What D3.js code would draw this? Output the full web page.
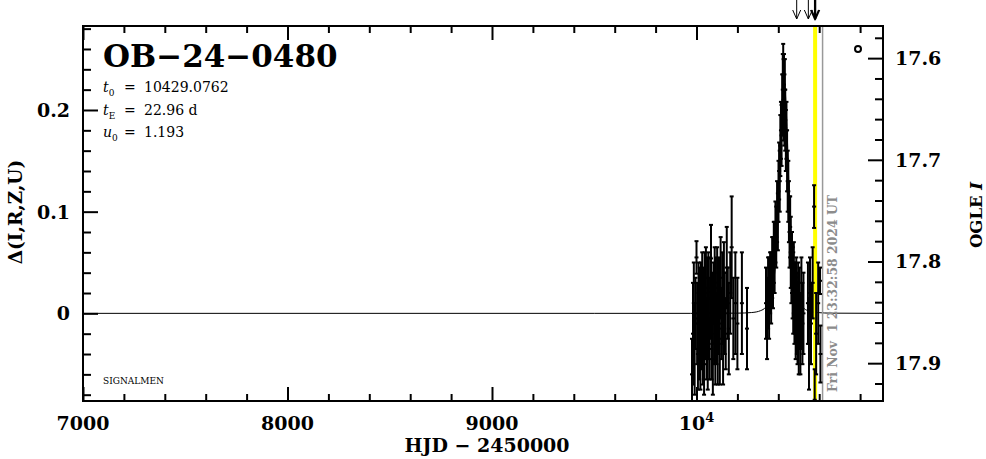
<!DOCTYPE html>
<html><head><meta charset="utf-8">
<script src="https://cdn.jsdelivr.net/npm/d3@7"></script>
<style>body{margin:0;background:#fff}svg{display:block}</style>
</head><body><svg id="c" width="986" height="459"></svg>
<script>
// ---------- data ----------
const xTickValues = [7000, 8000, 9000, 10000];
const xTickLabels = ["7000", "8000", "9000", "10|4"];
const leftTickValues = [0, 0.1, 0.2];
const leftTickLabels = ["0", "0.1", "0.2"];
const rightTickValues = [17.6, 17.7, 17.8, 17.9];
const rightTickLabels = ["17.6", "17.7", "17.8", "17.9"];
const xDomain = [7000, 10912];
const deltaDomain = [-0.0862, 0.2826];
const baselineMag = 17.851;

const eventName = "OB\u221224\u22120480";
const paramNames = ["t", "t", "u"];
const paramSubs = ["0", "E", "0"];
const paramValues = ["10429.0762", "22.96 d", "1.193"];

const obsTime = [
 9978, 9983, 9987, 9991, 9995, 10000, 10003, 10007, 10010, 10013, 10016, 10019, 10022, 10025, 10028,
 10031, 10034, 10037, 10040, 10043, 10046, 10049, 10052, 10055, 10058, 10061, 10064, 10067, 10071, 10074,
 10077, 10080, 10083, 10086, 10089, 10092, 10095, 10098, 10101, 10104, 10107, 10110, 10114, 10118, 10122,
 10126, 10130, 10134, 10138, 10143, 10148, 10153, 10158, 10165, 10172, 10180, 10190, 10200, 10222, 10247,
 10340, 10345, 10350, 10355, 10360, 10365, 10370, 10374, 10378, 10382, 10386, 10390, 10394, 10398, 10401,
 10404, 10407, 10410, 10413, 10416, 10419, 10422, 10424, 10426, 10428, 10430, 10432, 10434, 10437, 10440,
 10443, 10446, 10449, 10452, 10455, 10458, 10461, 10464, 10467, 10470, 10473, 10476, 10479, 10482, 10485,
 10488, 10491, 10494, 10497, 10500, 10504, 10508, 10513, 10518, 10523,
 10545, 10550, 10555, 10560, 10568, 10575, 10578, 10585, 10595, 10604, 10606];
const obsDelta = [
 -0.06, -0.02, 0.01, -0.035, 0.00, 0.055, -0.01, -0.04, 0.02, -0.02, 0.005, -0.045, 0.015, -0.015, 0.03,
 -0.03, 0.00, -0.05, 0.02, -0.01, 0.035, -0.025, 0.01, -0.04, 0.025, -0.005, -0.035, 0.015, 0.054, -0.02,
 0.005, -0.045, 0.02, -0.01, 0.03, -0.03, 0.01, -0.015, 0.025, -0.04, 0.00, 0.02, -0.025, 0.035, -0.01,
 0.015, -0.03, 0.04, 0.00, -0.02, 0.045, 0.01, -0.015, 0.02, 0.065, -0.005, 0.01, -0.01, 0.01, -0.015,
 0.01, -0.005, 0.02, 0.015, 0.03, 0.025, 0.045, 0.04, 0.06, 0.055, 0.08, 0.075, 0.10, 0.09, 0.12,
 0.14, 0.13, 0.165, 0.18, 0.175, 0.205, 0.22, 0.235, 0.21, 0.225, 0.20, 0.22, 0.19, 0.17, 0.18,
 0.15, 0.13, 0.12, 0.10, 0.08, 0.085, 0.06, 0.045, 0.05, 0.03, 0.02, 0.035, 0.01, 0.015, -0.005,
 0.02, 0.00, -0.01, 0.01, -0.015, 0.005, -0.02, 0.01, -0.01, 0.00,
 0.01, -0.03, 0.02, -0.01, 0.03, 0.105, -0.085, -0.02, 0.01, 0.032, -0.04];
const obsErr = [
 0.035, 0.05, 0.04, 0.045, 0.035, 0.016, 0.04, 0.035, 0.03, 0.045, 0.04, 0.03, 0.035, 0.04, 0.03,
 0.04, 0.045, 0.03, 0.04, 0.035, 0.03, 0.04, 0.045, 0.035, 0.035, 0.04, 0.03, 0.04, 0.033, 0.045,
 0.035, 0.035, 0.03, 0.04, 0.035, 0.04, 0.045, 0.035, 0.04, 0.03, 0.04, 0.035, 0.045, 0.04, 0.035,
 0.045, 0.04, 0.03, 0.04, 0.035, 0.04, 0.035, 0.045, 0.04, 0.05, 0.04, 0.05, 0.045, 0.05, 0.04,
 0.035, 0.04, 0.035, 0.04, 0.03, 0.035, 0.03, 0.035, 0.03, 0.035, 0.03, 0.03, 0.03, 0.028, 0.03,
 0.028, 0.03, 0.03, 0.028, 0.03, 0.03, 0.035, 0.03, 0.04, 0.03, 0.035, 0.03, 0.03, 0.03, 0.028,
 0.03, 0.03, 0.03, 0.03, 0.035, 0.03, 0.035, 0.035, 0.03, 0.035, 0.04, 0.035, 0.04, 0.035, 0.04,
 0.035, 0.04, 0.04, 0.04, 0.045, 0.04, 0.04, 0.045, 0.04, 0.04,
 0.04, 0.045, 0.035, 0.04, 0.035, 0.021, 0.03, 0.04, 0.04, 0.013, 0.028];

const modelTime = [7000, 9500, 9970, 10200, 10270, 10314, 10337, 10360, 10372, 10383, 10395, 10406, 10418,
 10429, 10441, 10452, 10464, 10475, 10486, 10498, 10521, 10544, 10590, 10660, 10912];
const modelDelta = [0, 0, 0, 0.0002, 0.0008, 0.0027, 0.0058, 0.0142, 0.0237, 0.0409, 0.0720, 0.1242, 0.1909,
 0.2266, 0.1909, 0.1242, 0.0720, 0.0409, 0.0237, 0.0142, 0.0058, 0.0027, 0.0008, 0.0002, 0];

const arrowTimes = [10490, 10547, 10578, 10582];
const highlightTime = 10580;
const nowTime = 10616.5;
const nowLabel = "Fri Nov  1 23:32:58 2024 UT";

// ---------- drawing ----------
const svg = d3.select("#c");
svg.append("rect").attr("width", 986).attr("height", 459).attr("fill", "#fff");
const F = {l: 83, r: 883, t: 26, b: 401};
const x = d3.scaleLinear().domain(xDomain).range([F.l, F.r]);
const y = d3.scaleLinear().domain(deltaDomain).range([F.b, F.t]);
const yMag = d3.scaleLinear().domain([baselineMag - deltaDomain[0], baselineMag - deltaDomain[1]]).range([F.b, F.t]);

svg.append("clipPath").attr("id", "clip").append("rect")
  .attr("x", F.l).attr("y", F.t).attr("width", F.r - F.l).attr("height", F.b - F.t);

const serif = "'DejaVu Serif', serif";
const plot = svg.append("g").attr("clip-path", "url(#clip)");

// model
plot.append("path")
  .datum(modelTime.map((t, i) => [t, modelDelta[i]]))
  .attr("fill", "none").attr("stroke", "#000").attr("stroke-width", 1)
  .attr("d", d3.line().x(d => x(d[0])).y(d => y(d[1])).curve(d3.curveMonotoneX));

// yellow highlight and "now" line
plot.append("line").attr("x1", x(highlightTime)).attr("x2", x(highlightTime))
  .attr("y1", F.t).attr("y2", F.b).attr("stroke", "#ffff00").attr("stroke-width", 4);
plot.append("line").attr("x1", x(nowTime)).attr("x2", x(nowTime))
  .attr("y1", F.t).attr("y2", F.b).attr("stroke", "#999").attr("stroke-width", 1.5);

// error bars
const obs = obsTime.map((t, i) => ({t, d: obsDelta[i], e: obsErr[i]}));
const eb = plot.append("g").attr("stroke", "#000").attr("stroke-width", 2);
obs.forEach(o => {
  const cx = x(o.t), y1 = y(o.d - o.e), y2 = y(o.d + o.e);
  eb.append("line").attr("x1", cx).attr("x2", cx).attr("y1", y1).attr("y2", y2);
  eb.append("line").attr("x1", cx - 2).attr("x2", cx + 2).attr("y1", y1).attr("y2", y1);
  eb.append("line").attr("x1", cx - 2).attr("x2", cx + 2).attr("y1", y2).attr("y2", y2);
  eb.append("line").attr("x1", cx - 2).attr("x2", cx + 2).attr("y1", y(o.d)).attr("y2", y(o.d));
});

// date text
svg.append("text").attr("transform", `translate(837,392) rotate(-90)`)
  .attr("font-family", serif).attr("font-weight", "bold").attr("font-size", 12)
  .attr("fill", "#8c8c8c").attr("xml:space", "preserve").style("white-space", "pre")
  .attr("textLength", 197).attr("lengthAdjust", "spacingAndGlyphs")
  .text(nowLabel);

// axes (ticks inward)
const minorX = d3.range(7200, 10900, 200).filter(v => v % 1000 !== 0);
const minorL = d3.range(-0.08, 0.281, 0.02).filter(v => Math.abs(v * 10 - Math.round(v * 10)) > 1e-6);
const minorR = d3.range(17.58, 17.935, 0.02).filter(v => Math.abs(v * 10 - Math.round(v * 10)) > 1e-6);

function styleAxis(g) {
  g.select(".domain").remove();
  g.selectAll(".tick line").attr("stroke", "#000").attr("stroke-width", 2);
  g.selectAll(".tick text").remove();
}
svg.append("g").attr("transform", `translate(0,${F.b})`).call(d3.axisBottom(x).tickValues(xTickValues).tickSize(-14)).call(styleAxis);
svg.append("g").attr("transform", `translate(0,${F.b})`).call(d3.axisBottom(x).tickValues(minorX).tickSize(-7)).call(styleAxis);
svg.append("g").attr("transform", `translate(0,${F.t})`).call(d3.axisTop(x).tickValues(xTickValues).tickSize(-14)).call(styleAxis);
svg.append("g").attr("transform", `translate(0,${F.t})`).call(d3.axisTop(x).tickValues(minorX).tickSize(-7)).call(styleAxis);
svg.append("g").attr("transform", `translate(${F.l},0)`).call(d3.axisLeft(y).tickValues(leftTickValues).tickSize(-15)).call(styleAxis);
svg.append("g").attr("transform", `translate(${F.l},0)`).call(d3.axisLeft(y).tickValues(minorL).tickSize(-8)).call(styleAxis);
svg.append("g").attr("transform", `translate(${F.r},0)`).call(d3.axisRight(yMag).tickValues(rightTickValues).tickSize(-15)).call(styleAxis);
svg.append("g").attr("transform", `translate(${F.r},0)`).call(d3.axisRight(yMag).tickValues(minorR).tickSize(-8)).call(styleAxis);

// frame
svg.append("rect").attr("x", F.l).attr("y", F.t).attr("width", F.r - F.l).attr("height", F.b - F.t)
  .attr("fill", "none").attr("stroke", "#000").attr("stroke-width", 2);

// tick labels
const lab = svg.append("g").attr("font-family", serif).attr("font-weight", "bold").attr("font-size", 19).attr("fill", "#000");
xTickValues.forEach((v, i) => {
  const parts = xTickLabels[i].split("|");
  const t = lab.append("text").attr("x", x(v)).attr("y", 430).attr("text-anchor", "middle");
  t.append("tspan").text(parts[0]);
  if (parts[1]) t.append("tspan").attr("dy", -8).attr("font-size", 13).text(parts[1]);
});
leftTickValues.forEach((v, i) => {
  lab.append("text").attr("x", 70).attr("y", y(v) + 7).attr("text-anchor", "end").text(leftTickLabels[i]);
});
rightTickValues.forEach((v, i) => {
  lab.append("text").attr("x", 895).attr("y", yMag(v) + 7).attr("text-anchor", "start").text(rightTickLabels[i]);
});

// axis titles
const at = svg.append("g").attr("font-family", serif).attr("font-weight", "bold").attr("fill", "#000");
at.append("text").attr("x", 487).attr("y", 452).attr("font-size", 19).attr("text-anchor", "middle")
  .attr("xml:space", "preserve").style("white-space", "pre").text("HJD \u2212 2450000");
at.append("text").attr("transform", "translate(22,212) rotate(-90)").attr("font-size", 18.5)
  .attr("text-anchor", "middle").text("\u0394(I,R,Z,U)");
const ogle = at.append("text").attr("transform", "translate(982,215) rotate(-90)").attr("font-size", 16.5)
  .attr("text-anchor", "middle");
ogle.append("tspan").text("OGLE ");
ogle.append("tspan").attr("font-style", "italic").text("I");

// title and parameters
svg.append("text").attr("x", 103).attr("y", 67).attr("font-family", serif).attr("font-weight", "bold")
  .attr("font-size", 31).attr("fill", "#000").text(eventName);
paramNames.forEach((n, i) => {
  const yy = 92 + i * 22.5;
  const g = svg.append("g").attr("font-family", serif).attr("font-size", 14).attr("fill", "#000");
  const t = g.append("text").attr("x", 103).attr("y", yy);
  t.append("tspan").attr("font-style", "italic").text(n);
  t.append("tspan").attr("font-size", 9).attr("dy", 4).text(paramSubs[i]);
  g.append("text").attr("x", 124).attr("y", yy).text("=");
  g.append("text").attr("x", 144).attr("y", yy).text(paramValues[i]);
});
svg.append("text").attr("x", 103).attr("y", 384).attr("font-family", serif).attr("font-size", 9)
  .attr("fill", "#000").text("SIGNALMEN");

// legend symbol
svg.append("circle").attr("cx", 858).attr("cy", 49).attr("r", 3)
  .attr("fill", "none").attr("stroke", "#000").attr("stroke-width", 2);

// arrows at top
arrowTimes.forEach((t, i) => {
  const ax = x(t);
  const g = svg.append("g").attr("stroke", "#000").attr("fill", "none").attr("stroke-width", i >= 2 ? 1.5 : 1);
  g.append("line").attr("x1", ax).attr("x2", ax).attr("y1", 0).attr("y2", 19);
  g.append("path").attr("d", `M${ax - 4},10 L${ax},19 L${ax + 4},10`);
});
</script></body></html>
